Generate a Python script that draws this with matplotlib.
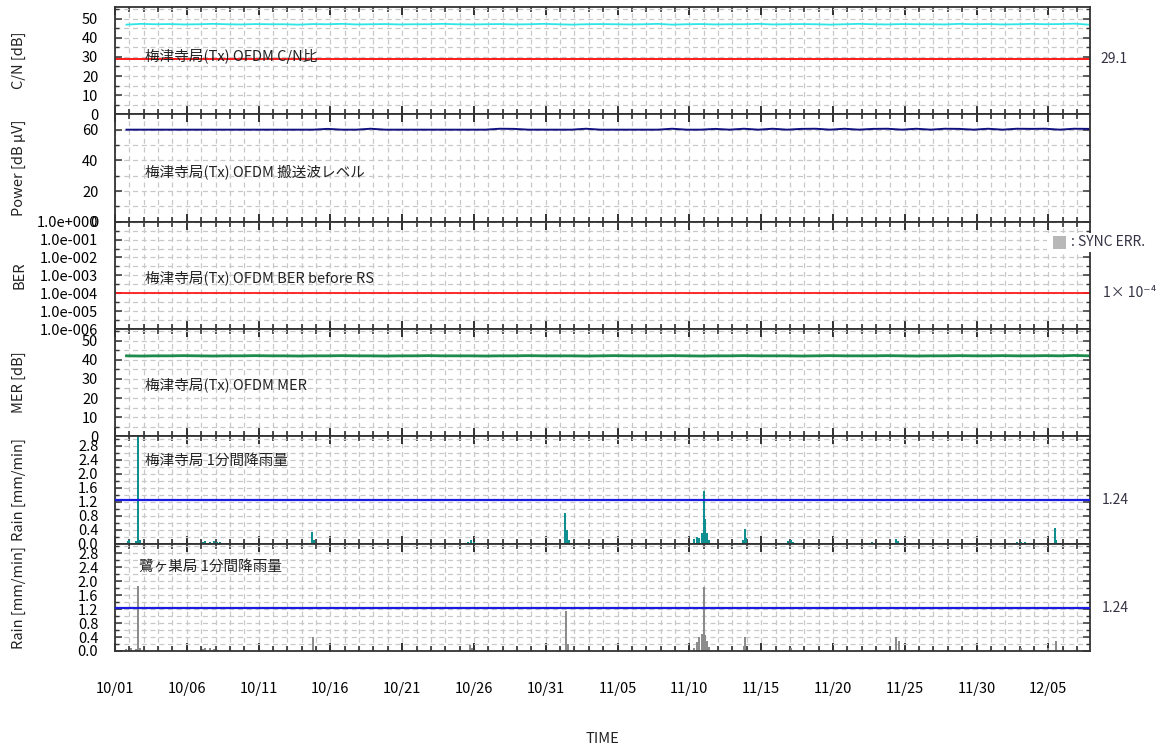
import matplotlib
matplotlib.use("Agg")
import matplotlib.pyplot as plt
import matplotlib.patches as mpatches
from matplotlib.ticker import MultipleLocator, FixedLocator, NullFormatter, FormatStrFormatter
from matplotlib.transforms import blended_transform_factory

plt.rcParams['font.family'] = ['Noto Sans CJK JP', 'DejaVu Sans']

# ---- time axis (days since 10/01 00:00) ----
date_ticks = [0, 5, 10, 15, 20, 25, 30, 35, 40, 45, 50, 55, 60, 65]
date_labels = ["10/01", "10/06", "10/11", "10/16", "10/21", "10/26", "10/31",
               "11/05", "11/10", "11/15", "11/20", "11/25", "11/30", "12/05"]
x_end = 67.9

# daily samples of the monitored OFDM signal
sample_day = [0.8, 1.8, 2.8, 3.8, 4.8, 5.8, 6.8, 7.8, 8.8, 9.8,
              10.8, 11.8, 12.8, 13.8, 14.8, 15.8, 16.8, 17.8, 18.8, 19.8,
              20.8, 21.8, 22.8, 23.8, 24.8, 25.8, 26.8, 27.8, 28.8, 29.8,
              30.8, 31.8, 32.8, 33.8, 34.8, 35.8, 36.8, 37.8, 38.8, 39.8,
              40.8, 41.8, 42.8, 43.8, 44.8, 45.8, 46.8, 47.8, 48.8, 49.8,
              50.8, 51.8, 52.8, 53.8, 54.8, 55.8, 56.8, 57.8, 58.8, 59.8,
              60.8, 61.8, 62.8, 63.8, 64.8, 65.8, 66.8, 67.8]

cn_db = [46.8, 47.2, 47.0, 47.1, 46.9, 47.0, 47.2, 47.0, 46.9, 47.1,
         47.0, 47.0, 46.8, 47.1, 47.0, 47.2, 46.9, 47.0, 47.1, 46.9,
         47.0, 47.0, 47.2, 47.0, 46.9, 47.0, 47.1, 46.9, 47.0, 47.2,
         47.0, 46.8, 47.0, 47.1, 47.0, 46.9, 47.0, 47.2, 46.8, 47.0,
         47.1, 46.9, 47.0, 47.0, 47.2, 46.9, 47.0, 47.1, 47.0, 46.8,
         47.0, 47.2, 47.0, 46.9, 47.1, 47.0, 47.0, 46.9, 47.2, 47.0,
         47.1, 46.9, 47.0, 47.2, 47.0, 47.1, 47.3, 46.8]

power_dbuv = [60.0, 60.0, 60.0, 60.0, 60.0, 60.0, 60.0, 60.0, 60.0, 60.0,
              60.0, 60.0, 60.0, 60.0, 60.5, 60.0, 60.0, 60.6, 60.0, 60.0,
              60.0, 60.0, 60.0, 60.0, 60.0, 60.0, 60.6, 60.5, 60.0, 60.0,
              60.0, 60.0, 60.6, 60.0, 60.0, 60.0, 60.0, 60.0, 60.6, 60.0,
              60.0, 60.5, 60.0, 60.6, 60.0, 60.6, 60.0, 60.5, 60.6, 60.0,
              60.6, 60.0, 60.5, 60.6, 60.0, 60.6, 60.0, 60.6, 60.5, 60.0,
              60.6, 60.0, 60.6, 60.5, 60.6, 60.0, 60.6, 60.5]

mer_db = [42.0, 41.9, 42.0, 42.0, 42.1, 42.0, 41.9, 42.0, 42.0, 42.1,
          42.0, 42.0, 41.9, 42.0, 42.0, 42.1, 42.0, 42.0, 41.9, 42.0,
          42.0, 42.1, 42.0, 42.0, 42.0, 41.9, 42.0, 42.0, 42.1, 42.0,
          42.0, 42.0, 41.9, 42.0, 42.1, 42.0, 42.0, 42.0, 42.1, 42.0,
          41.9, 42.0, 42.0, 42.1, 42.0, 42.0, 42.0, 41.9, 42.0, 42.1,
          42.0, 42.0, 42.0, 42.1, 42.0, 41.9, 42.0, 42.0, 42.1, 42.0,
          42.0, 42.1, 42.0, 42.0, 42.1, 42.0, 42.2, 42.0]

cn_limit = 29.1
ber_limit = 1e-4
rain_limit = 1.24

# 1-minute rainfall events [mm/min]
rain1_day = [0.9, 1.0, 1.45, 1.58, 1.75, 5.0, 5.3, 6.1, 6.3, 6.6, 6.9, 7.1, 7.3,
             13.75, 13.85, 24.6, 24.8, 25.0, 31.35, 31.5, 31.6,
             40.3, 40.5, 40.7, 40.9, 41.0, 41.1, 41.25, 41.4,
             43.75, 43.85, 43.95, 46.9, 47.1, 47.25, 52.5, 52.7,
             54.4, 54.55, 62.8, 63.1, 63.4, 65.45, 65.55]
rain1_mm = [0.08, 0.10, 0.08, 3.20, 0.10, 0.03, 0.02, 0.05, 0.07, 0.06, 0.07, 0.06, 0.04,
            0.33, 0.10, 0.06, 0.10, 0.05, 0.88, 0.40, 0.10,
            0.12, 0.20, 0.15, 0.30, 1.52, 0.70, 0.30, 0.10,
            0.10, 0.42, 0.15, 0.08, 0.11, 0.06, 0.03, 0.06,
            0.14, 0.08, 0.04, 0.05, 0.04, 0.46, 0.10]

rain2_day = [0.8, 1.1, 1.45, 1.58, 1.75, 6.1, 6.3, 6.6, 6.9, 7.2,
             13.8, 24.7, 24.85, 31.4, 31.55,
             40.3, 40.5, 40.7, 40.9, 41.0, 41.1, 41.25, 41.4,
             43.8, 43.9, 47.1, 54.4, 54.6, 63.1, 65.0, 65.5]
rain2_mm = [0.06, 0.08, 0.06, 1.85, 0.10, 0.06, 0.10, 0.08, 0.07, 0.04,
            0.40, 0.16, 0.08, 1.15, 0.20,
            0.10, 0.25, 0.40, 0.50, 1.83, 0.45, 0.30, 0.12,
            0.15, 0.40, 0.10, 0.40, 0.30, 0.10, 0.10, 0.30]

ber_ticks = [1e0, 1e-1, 1e-2, 1e-3, 1e-4, 1e-5, 1e-6]
ber_labels = ["1.0e+000", "1.0e-001", "1.0e-002", "1.0e-003",
              "1.0e-004", "1.0e-005", "1.0e-006"]
ber_minor = [10 ** -0.5, 10 ** -1.5, 10 ** -2.5, 10 ** -3.5, 10 ** -4.5, 10 ** -5.5]

panel_titles = ["梅津寺局(Tx) OFDM C/N比",
                "梅津寺局(Tx) OFDM 搬送波レベル",
                "梅津寺局(Tx) OFDM BER before RS",
                "梅津寺局(Tx) OFDM MER",
                "梅津寺局 1分間降雨量",
                "鷺ヶ巣局 1分間降雨量"]
y_titles = ["C/N [dB]", "Power [dB μV]", "BER", "MER [dB]",
            "Rain [mm/min]", "Rain [mm/min]"]

# ---- figure layout ----
W, H = 1159, 748
fig = plt.figure(figsize=(W / 100, H / 100), dpi=100)
left, right = 115 / W, 1090 / W
top, bottom = 1 - 7 / H, 1 - 651 / H
n = 6
ph = (top - bottom) / n
axes = [fig.add_axes([left, top - (i + 1) * ph, right - left, ph]) for i in range(n)]

grid_kw = dict(color='#c8c8c8', linestyle=(0, (4, 3)), linewidth=0.9)
txt_color = '#222222'

for i, ax in enumerate(axes):
    ax.set_xlim(0, x_end)
    ax.xaxis.set_major_locator(FixedLocator(date_ticks))
    ax.xaxis.set_minor_locator(MultipleLocator(1))
    ax.grid(True, which='both', axis='x', **grid_kw)
    ax.grid(True, which='both', axis='y', **grid_kw)
    ax.set_axisbelow(True)
    ax.tick_params(axis='x', which='major', direction='in', length=6, width=1.3,
                   top=True, bottom=True, color='#222222')
    ax.tick_params(axis='x', which='minor', direction='in', length=3.5, width=1.1,
                   top=True, bottom=True, color='#222222')
    ax.tick_params(axis='y', which='major', direction='in', length=5, width=1.1,
                   left=True, right=True, color='#333333', labelsize=10.5, pad=12)
    ax.tick_params(axis='y', which='minor', direction='in', length=3, width=1.0,
                   left=True, right=True, color='#333333')
    for sp in ax.spines.values():
        sp.set_linewidth(1.3)
        sp.set_color('#333333')
    if i < n - 1:
        ax.xaxis.set_major_formatter(NullFormatter())
    ax.set_ylabel(y_titles[i], fontsize=10.5, color=txt_color)
    ax.yaxis.set_label_coords(-0.091, 0.5)

title_pos = [(0.031, 0.537), (0.031, 0.467), (0.031, 0.48),
             (0.031, 0.477), (0.031, 0.77), (0.025, 0.785)]
for ax, t, (tx, ty) in zip(axes, panel_titles, title_pos):
    ax.text(tx, ty, t, transform=ax.transAxes, fontsize=10.5, color=txt_color,
            ha='left', va='center')

right_kw = dict(fontsize=10, color='#333344', ha='left', va='center')

# C/N
ax = axes[0]
ax.plot(sample_day, cn_db, color='#2ee6e6', lw=1.3)
ax.axhline(cn_limit, color='#ff1a1a', lw=1.4)
ax.set_ylim(0, 56)
ax.yaxis.set_major_locator(MultipleLocator(10))
ax.yaxis.set_minor_locator(MultipleLocator(5))
ax.text(1.0103, cn_limit, "29.1",
        transform=blended_transform_factory(ax.transAxes, ax.transData), **right_kw)

# Power
ax = axes[1]
ax.plot(sample_day, power_dbuv, color='#101080', lw=1.4)
ax.set_ylim(0, 70)
ax.yaxis.set_major_locator(FixedLocator([0, 20, 40, 60]))
ax.yaxis.set_minor_locator(FixedLocator([10, 30, 50]))

# BER
ax = axes[2]
ax.set_yscale('log')
ax.set_ylim(1e-6, 1e0)
ax.yaxis.set_major_locator(FixedLocator(ber_ticks))
ax.set_yticklabels(ber_labels)
ax.yaxis.set_minor_locator(FixedLocator(ber_minor))
ax.yaxis.set_minor_formatter(NullFormatter())
ax.axhline(ber_limit, color='#ff1a1a', lw=1.3)
ax.text(1.0133, ber_limit, "1× 10⁻⁴",
        transform=blended_transform_factory(ax.transAxes, ax.transData), **right_kw)

# MER
ax = axes[3]
ax.plot(sample_day, mer_db, color='#1c8a4c', lw=2.0)
ax.set_ylim(0, 56)
ax.yaxis.set_major_locator(MultipleLocator(10))
ax.yaxis.set_minor_locator(MultipleLocator(5))

# Rain panels
for ax, days, vals, col in [(axes[4], rain1_day, rain1_mm, '#0f8f8f'),
                            (axes[5], rain2_day, rain2_mm, '#8c8c8c')]:
    ax.bar(days, vals, width=0.14, color=col, linewidth=0, zorder=2)
    ax.axhline(rain_limit, color='#1a1ae0', lw=1.6, zorder=3)
    ax.set_ylim(0, 3.07)
    ax.yaxis.set_major_locator(FixedLocator([0.0, 0.4, 0.8, 1.2, 1.6, 2.0, 2.4, 2.8]))
    ax.yaxis.set_major_formatter(FormatStrFormatter('%.1f'))
    ax.yaxis.set_minor_locator(FixedLocator([0.2, 0.6, 1.0, 1.4, 1.8, 2.2, 2.6, 3.0]))
    ax.text(1.0123, rain_limit, "1.24",
            transform=blended_transform_factory(ax.transAxes, ax.transData), **right_kw)

# bottom axis
ax = axes[5]
ax.set_xticklabels(date_labels)
ax.tick_params(axis='x', which='major', labelsize=10.5, pad=22)
ax.set_xlabel("TIME", fontsize=10.5, color=txt_color, labelpad=26)

# SYNC ERR key
fig.patches.append(mpatches.Rectangle((1047 / W, 1 - 252 / H), 111 / W, 19 / H,
                                      transform=fig.transFigure, facecolor='white',
                                      edgecolor='none', zorder=5))
fig.patches.append(mpatches.Rectangle((1053 / W, 1 - 249 / H), 13 / W, 13 / H,
                                      transform=fig.transFigure, facecolor='#b8b8b8',
                                      edgecolor='none', zorder=6))
fig.text(1071 / W, 1 - 242 / H, ": SYNC ERR.", fontsize=10, color='#333344',
         ha='left', va='center', zorder=7)

fig.savefig("out.png", dpi=100)
